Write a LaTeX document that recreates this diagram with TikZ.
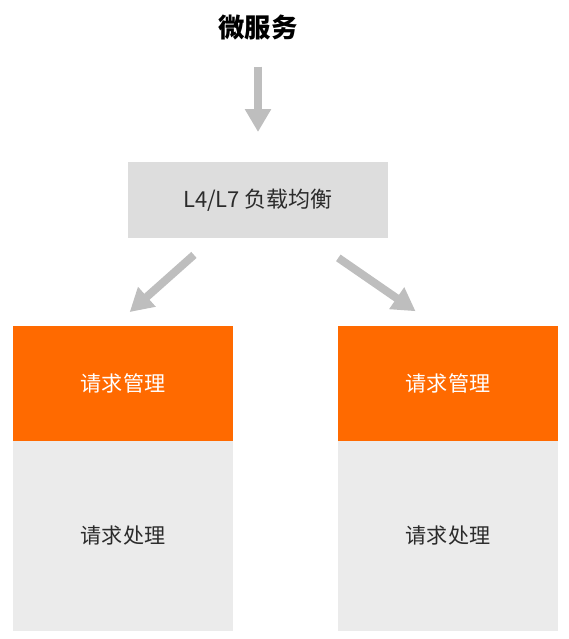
\documentclass[tikz,border=0pt]{standalone}
\usepackage{fontspec}
\setmainfont{Noto Sans CJK SC}
\usepackage{tikz}
\usetikzlibrary{arrows.meta,calc,positioning}

\definecolor{boxorange}{HTML}{FF6A00}
\definecolor{boxgray}{HTML}{EBEBEB}
\definecolor{lbgray}{HTML}{DDDDDD}
\definecolor{arrowgray}{HTML}{BEBEBE}
\definecolor{textdark}{HTML}{2B2B2B}

\begin{document}
\begin{tikzpicture}[node distance=2.1cm,
    every node/.style={inner sep=0pt, outer sep=0pt},
    lbbox/.style={rectangle, fill=lbgray, minimum width=5.2cm, minimum height=1.52cm,
      text=textdark, font=\fontsize{12.5}{14}\selectfont},
    mgmt/.style={rectangle, fill=boxorange, minimum width=4.4cm, minimum height=2.3cm,
      text=white, font=\fontsize{12}{14}\selectfont},
    proc/.style={rectangle, fill=boxgray, minimum width=4.4cm, minimum height=3.8cm,
      text=textdark, font=\fontsize{12}{14}\selectfont},
    flow/.style={draw=arrowgray, line width=0.16cm, -{Triangle[width=0.5cm,length=0.46cm]}}]
  \useasboundingbox (0,0) rectangle (11.38,-12.78);

  \node[font=\bfseries\fontsize{15}{17}\selectfont] (title) at (5.16,-0.56) {微服务};
  \node[lbbox] (lb) at (5.16,-4.0) {L4/L7 负载均衡};
  \node[mgmt] (lm) at (2.46,-7.67) {请求管理};
  \node[proc] (lp) [below=0pt of lm] {请求处理};
  \node[mgmt] (rm) [right=2.1cm of lm] {请求管理};
  \node[proc] (rp) [below=0pt of rm] {请求处理};

  \draw[flow, shorten <=0.52cm, shorten >=0.6cm] (title.south) -- (lb.north);
  \draw[flow, shorten <=0.51cm, shorten >=0.42cm] ([xshift=-0.9cm]lb.south) -- ([xshift=-0.18cm]lm.north);
  \draw[flow, shorten <=0.7cm, shorten >=0.52cm] ([xshift=1.03cm]lb.south) -- ([xshift=-0.22cm]rm.north);
\end{tikzpicture}
\end{document}
